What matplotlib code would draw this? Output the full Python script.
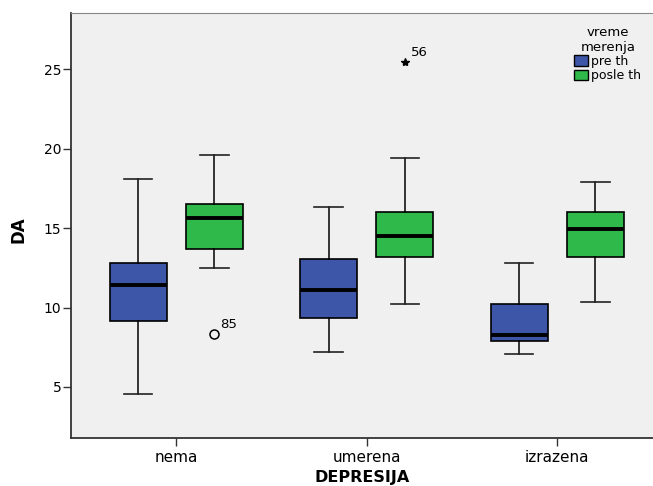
import matplotlib
matplotlib.use('Agg')
import matplotlib.pyplot as plt
from matplotlib.patches import Patch

plt.rcParams['font.family'] = ['DejaVu Sans']

# depression groups and measurement times
categories = ['nema', 'umerena', 'izrazena']
series = ['pre th', 'posle th']
colors = ['#3e56a8', '#30b94b']

# five-number summaries
pre_low = [4.58, 7.22, 7.10]
pre_q1 = [9.17, 9.32, 7.87]
pre_med = [11.42, 11.10, 8.27]
pre_q3 = [12.78, 13.07, 10.24]
pre_high = [18.10, 16.32, 12.78]

posle_low = [12.50, 10.22, 10.36]
posle_q1 = [13.66, 13.19, 13.20]
posle_med = [15.61, 14.50, 14.96]
posle_q3 = [16.49, 15.99, 16.00]
posle_high = [19.59, 19.42, 17.87]

# outliers: category index, series index, value, case label, marker
out_cat = [0, 1]
out_ser = [1, 1]
out_val = [8.35, 25.44]
out_lbl = ['85', '56']
out_mark = ['o', '*']

stats_by_series = [
    (pre_low, pre_q1, pre_med, pre_q3, pre_high),
    (posle_low, posle_q1, posle_med, posle_q3, posle_high),
]

fig = plt.figure(figsize=(6.53, 4.86), dpi=100)
ax = fig.add_axes([0.1087, 0.0988, 0.8925, 0.874])
ax.set_facecolor('#f0f0f0')

offsets = [-0.2, 0.2]
for s, (lo, q1, med, q3, hi) in enumerate(stats_by_series):
    st = []
    for i in range(len(categories)):
        st.append(dict(whislo=lo[i], q1=q1[i], med=med[i], q3=q3[i],
                       whishi=hi[i], fliers=[]))
    pos = [i + offsets[s] for i in range(len(categories))]
    ax.bxp(st, positions=pos, widths=0.30, capwidths=0.15,
           patch_artist=True, showfliers=False,
           boxprops=dict(facecolor=colors[s], edgecolor='black', linewidth=1.2),
           medianprops=dict(color='black', linewidth=2.8),
           whiskerprops=dict(color='black', linewidth=1.1),
           capprops=dict(color='#222222', linewidth=1.2),
           manage_ticks=False)

for c, s, v, lbl, m in zip(out_cat, out_ser, out_val, out_lbl, out_mark):
    x = c + offsets[s]
    if m == 'o':
        ax.plot(x, v, marker='o', ms=6.5, mfc='none', mec='black', mew=1.1, ls='none')
    else:
        ax.plot(x, v, marker='*', ms=6, mfc='black', mec='black', ls='none')
    ax.text(x + 0.03, v + 0.2, lbl, fontsize=9.5, ha='left', va='bottom')

ax.set_xlim(-0.553, 2.507)
ax.set_ylim(1.79, 28.52)
ax.set_xticks(range(len(categories)))
ax.set_xticklabels(categories, fontsize=11)
ax.set_yticks([5, 10, 15, 20, 25])
ax.tick_params(axis='both', direction='out', length=6, width=1, color='#333333')
ax.tick_params(axis='y', labelsize=10, pad=1)
ax.tick_params(axis='x', pad=3)

for side in ['left', 'bottom']:
    ax.spines[side].set_color('#333333')
    ax.spines[side].set_linewidth(1.3)
ax.spines['top'].set_color('#888888')
ax.spines['right'].set_visible(False)

ax.set_ylabel('DA', fontsize=12, fontweight='bold')
ax.yaxis.set_label_coords(-0.074, 0.49)
ax.set_xlabel('DEPRESIJA', fontsize=11.5, fontweight='bold')
ax.xaxis.set_label_coords(0.5, -0.076)

handles = [Patch(facecolor=colors[i], edgecolor='black', label=series[i]) for i in range(2)]
leg = ax.legend(handles=handles, title='vreme\nmerenja', frameon=False,
                loc='upper right', bbox_to_anchor=(1.0, 1.0), fontsize=9,
                title_fontsize=9.5, handlelength=1.1, handleheight=0.9,
                handletextpad=0.25, labelspacing=0.1, borderpad=0.5)
leg.get_title().set_multialignment('center')

fig.savefig('out.png', dpi=100)
